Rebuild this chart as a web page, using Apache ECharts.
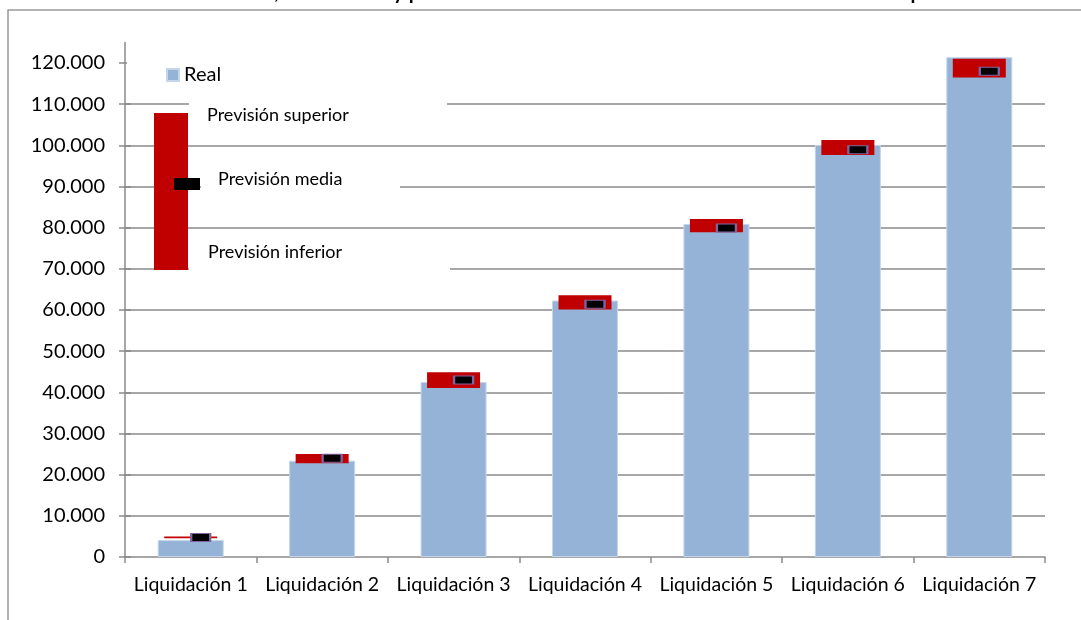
<!DOCTYPE html>
<html>
<head>
<meta charset="utf-8">
<script src="https://cdn.jsdelivr.net/npm/echarts@6/dist/echarts.min.js"></script>
<style>
html,body{margin:0;padding:0;background:#fff;}
#chart{width:1081px;height:620px;}
</style>
</head>
<body>
<div id="chart"></div>
<script>
var categories = ['Liquidación 1','Liquidación 2','Liquidación 3','Liquidación 4','Liquidación 5','Liquidación 6','Liquidación 7'];
var real = [4100, 23400, 42500, 62300, 80900, 100100, 121400];
var prevInferior = [4550, 22800, 41050, 60100, 78900, 97650, 116500];
var prevSuperior = [5000, 25000, 44900, 63600, 82100, 101300, 121000];
var prevMedia = [4750, 24000, 43000, 61400, 79900, 98900, 118000];
var yTickValues = [0,10000,20000,30000,40000,50000,60000,70000,80000,90000,100000,110000,120000];
var titleText = 'Recaudación real, valor medio y previsión de la recaudación total acumulada en el último plazo';

function fmt(v){
  var s = String(Math.round(v));
  return s.replace(/\B(?=(\d{3})+(?!\d))/g, '.');
}
var band = prevSuperior.map(function(v,i){ return v - prevInferior[i]; });
var FONT = 'Lato';
var GRID = '#8a8a8a';

var chart = echarts.init(document.getElementById('chart'));
chart.setOption({
  animation: false,
  textStyle: {fontFamily: FONT},
  title: {
    text: titleText, left: 'center', top: -22,
    textStyle: {fontSize: 20, fontWeight: 'bold', color: '#000', fontFamily: FONT}
  },
  legend: {
    data: ['Real'], left: 127, top: 58, orient: 'horizontal',
    icon: 'rect', itemWidth: 12, itemHeight: 12, itemGap: 5,
    padding: [7, 25, 5, 39], backgroundColor: '#fff',
    textStyle: {fontSize: 20, color: '#000', fontFamily: FONT},
    z: 20
  },
  grid: {left: 125, right: 36, top: 42.4, bottom: 63, containLabel: false},
  xAxis: [{
    type: 'category', data: categories, boundaryGap: true,
    axisLine: {lineStyle: {color: GRID, width: 1.5}},
    axisTick: {show: true, length: 6, lineStyle: {color: GRID, width: 1.5}},
    axisLabel: {fontSize: 19.5, color: '#000', margin: 18, fontFamily: FONT, interval: 0},
    splitLine: {show: false}
  },{
    type: 'category', data: categories, boundaryGap: true, show: false, position: 'bottom'
  }],
  yAxis: [{
    type: 'value', min: 0, max: 125000, interval: 10000,
    axisLine: {show: true, lineStyle: {color: GRID, width: 1.5}},
    axisTick: {show: true, length: 6, inside: false, lineStyle: {color: GRID, width: 1.5}, customValues: yTickValues},
    axisLabel: {fontSize: 20, color: '#000', margin: 20, fontFamily: FONT, customValues: yTickValues, formatter: function(v){return fmt(v);}},
    splitLine: {show: true, showMaxLine: false, showMinLine: false, lineStyle: {color: GRID, width: 1.5}}
  },{
    type: 'value', min: 0, max: 125000, interval: 10000, position: 'left',
    axisLine: {show: false},
    axisTick: {show: true, length: 6, inside: true, lineStyle: {color: GRID, width: 1.5}, customValues: yTickValues},
    axisLabel: {show: false},
    splitLine: {show: false}
  }],
  series: [{
    name: 'Real', type: 'bar', xAxisIndex: 0, yAxisIndex: 0, data: real, barWidth: 66,
    itemStyle: {color: '#95b3d7', borderColor: '#c5d6ea', borderWidth: 1}, z: 2
  },{
    name: 'Previsión base', type: 'bar', xAxisIndex: 1, yAxisIndex: 0, stack: 'prev', data: prevInferior, barWidth: 53,
    itemStyle: {color: 'rgba(0,0,0,0)'}, silent: true, z: 3
  },{
    name: 'Previsión', type: 'bar', xAxisIndex: 1, yAxisIndex: 0, stack: 'prev', data: band, barWidth: 53,
    itemStyle: {color: '#c00000'}, z: 3
  },{
    name: 'Previsión media', type: 'scatter', xAxisIndex: 0, yAxisIndex: 0, data: prevMedia,
    symbol: 'rect', symbolSize: [19, 8], symbolOffset: [10, 0],
    itemStyle: {color: '#000', borderColor: '#8064a2', borderWidth: 1.5, opacity: 1}, z: 4
  }],
  graphic: [
    {type: 'rect', z: 1, silent: true, shape: {x: 8, y: 10, width: 1200, height: 800}, style: {fill: 'none', stroke: '#999', lineWidth: 1.5}},
    {type: 'rect', z: 50, shape: {x: 189, y: 96, width: 258, height: 32}, style: {fill: '#fff'}},
    {type: 'rect', z: 50, shape: {x: 201, y: 168, width: 199, height: 30}, style: {fill: '#fff'}},
    {type: 'rect', z: 50, shape: {x: 189, y: 244, width: 261, height: 34}, style: {fill: '#fff'}},
    {type: 'rect', z: 51, shape: {x: 154, y: 113, width: 34, height: 157}, style: {fill: '#c00000'}},
    {type: 'rect', z: 52, shape: {x: 174, y: 178, width: 26, height: 12}, style: {fill: '#000'}},
    {type: 'text', z: 53, left: 207, top: 106, style: {text: 'Previsión superior', font: '18px ' + FONT, fill: '#000'}},
    {type: 'text', z: 53, left: 218, top: 170, style: {text: 'Previsión media', font: '18px ' + FONT, fill: '#000'}},
    {type: 'text', z: 53, left: 208, top: 243, style: {text: 'Previsión inferior', font: '18px ' + FONT, fill: '#000'}}
  ]
});
</script>
</body>
</html>
